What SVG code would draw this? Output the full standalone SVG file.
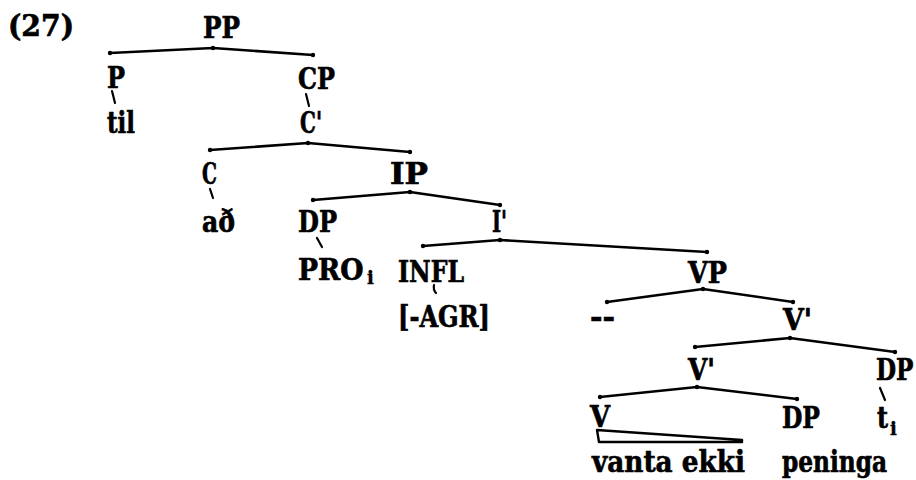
<svg xmlns="http://www.w3.org/2000/svg" width="916" height="480" viewBox="0 0 916 480">
<defs>
<marker id="dot" viewBox="-3 -3 6 6" markerWidth="6" markerHeight="6" markerUnits="userSpaceOnUse" refX="0" refY="0">
<circle r="2.2" fill="#000"/>
</marker>
<style>
text{font-family:"DejaVu Serif","Liberation Serif",serif;font-weight:bold;font-size:30px;fill:#000;stroke:#000;stroke-width:0.7}
.sub{font-size:18px;stroke-width:0.4}
.br{fill:none;stroke:#000;stroke-width:2.6;stroke-linejoin:round;stroke-linecap:round;marker-start:url(#dot);marker-mid:url(#dot);marker-end:url(#dot)}
.tk{fill:none;stroke:#000;stroke-width:2.2;stroke-linecap:round}
</style>
</defs>
<rect width="916" height="480" fill="#fff"/>
<text x="8" y="36" textLength="66" lengthAdjust="spacingAndGlyphs">(27)</text>
<g id="connectors">
<polyline class="br" points="110,53 213,48 313,55"/>
<polyline class="br" points="210,150 308,143 410,152"/>
<polyline class="br" points="313,200 410,192 500,205"/>
<polyline class="br" points="423,246 500,240 707,252"/>
<polyline class="br" points="607,302 703,289 793,302"/>
<polyline class="br" points="695,347 790,338 895,352"/>
<polyline class="br" points="600,397 697,387 797,399"/>
<path class="tk" d="M112,91 L115,103"/>
<path class="tk" d="M306,94 L309,106"/>
<path class="tk" d="M210,189 L213,198"/>
<path class="tk" d="M317,238 L322,247"/>
<path class="tk" d="M434,285 Q433,290 436,293"/>
<path class="tk" d="M880,388 L885,400"/>
<path fill="none" stroke="#000" stroke-width="2.4" stroke-linejoin="round" d="M597,430 L742,440 L742,442 L599,442 Z"/>
</g>
<g id="PP"><text x="203" y="38" textLength="37" lengthAdjust="spacingAndGlyphs">PP</text></g>
<g id="P"><text x="107" y="88" textLength="18" lengthAdjust="spacingAndGlyphs">P</text></g>
<g id="til"><text x="107" y="133" textLength="28" lengthAdjust="spacingAndGlyphs">til</text></g>
<g id="CP"><text x="298" y="89" textLength="37" lengthAdjust="spacingAndGlyphs">CP</text></g>
<g id="Cbar"><text x="300" y="133" textLength="22" lengthAdjust="spacingAndGlyphs">C'</text></g>
<g id="C"><text x="202" y="184" textLength="15" lengthAdjust="spacingAndGlyphs">C</text></g>
<g id="ad"><text x="202" y="232" textLength="33" lengthAdjust="spacingAndGlyphs">að</text></g>
<g id="IP"><text x="390" y="184" textLength="38" lengthAdjust="spacingAndGlyphs">IP</text></g>
<g id="DP1"><text x="298" y="232" textLength="39" lengthAdjust="spacingAndGlyphs">DP</text></g>
<g id="PRO"><text transform="translate(298,280) scale(0.89,1)">PRO</text><text class="sub" x="367" y="284">i</text></g>
<g id="Ibar"><text x="492" y="232" textLength="15" lengthAdjust="spacingAndGlyphs">I'</text></g>
<g id="INFL"><text x="398" y="282" textLength="66" lengthAdjust="spacingAndGlyphs">INFL</text></g>
<g id="AGR"><text x="398" y="327" textLength="92" lengthAdjust="spacingAndGlyphs">[-AGR]</text></g>
<g id="VP"><text x="688" y="283" textLength="39" lengthAdjust="spacingAndGlyphs">VP</text></g>
<g id="empty"><text x="590" y="327" textLength="25" lengthAdjust="spacingAndGlyphs">--</text></g>
<g id="Vbar1"><text x="783" y="330" textLength="29" lengthAdjust="spacingAndGlyphs">V'</text></g>
<g id="Vbar2"><text x="688" y="380" textLength="27" lengthAdjust="spacingAndGlyphs">V'</text></g>
<g id="DP2"><text transform="translate(876,380) scale(0.77,1)">DP</text></g>
<g id="ti"><text x="877" y="428" textLength="11" lengthAdjust="spacingAndGlyphs">t</text><text class="sub" x="890" y="435">i</text></g>
<g id="V"><text x="590" y="427" textLength="20" lengthAdjust="spacingAndGlyphs">V</text></g>
<g id="vanta"><text x="592" y="472" textLength="153" lengthAdjust="spacingAndGlyphs">vanta ekki</text></g>
<g id="DP3"><text x="782" y="428" textLength="38" lengthAdjust="spacingAndGlyphs">DP</text></g>
<g id="peninga"><text x="782" y="472" textLength="105" lengthAdjust="spacingAndGlyphs">peninga</text></g>
</svg>
